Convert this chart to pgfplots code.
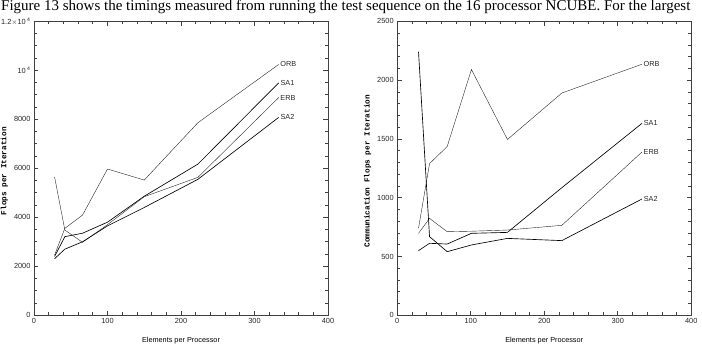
\documentclass[border=0pt]{standalone}
\usepackage{fontspec}
\setmainfont{Liberation Sans}
\newfontfamily\timesfont{Liberation Serif}
\newfontfamily\courfont{Liberation Mono}
\usepackage{pgfplots}
\pgfplotsset{compat=1.18}

% Flop counts per iteration against mesh elements per processor
\pgfplotstableread{
x     orb    sa1    erb    sa2
28    2460   2400   5650   2310
42    3550   3210   3480   2700
66    4090   3350   2980   3000
100   5970   3800   3700   3650
150   5520   4860   4840   4400
223   7860   6170   5630   5550
333   10240  9490   8890   8080
}\flops

\pgfplotstableread{
x     orb    sa1    erb    sa2
29    740    550    697    2241
44    1290   612    824    669
68    1435   606    711    541
101   2090   697    715    598
150   1495   705    725    654
224   1890   1085   765    635
333   2135   1632   1388   989
}\commflops

\tikzset{
  endlabel/.style={pos=1, anchor=west, font=\fontsize{7.3}{8}\selectfont, black!85, inner sep=1.5pt},
}

\pgfplotsset{
  panel/.style={
    scale only axis, width=294pt, height=294pt,
    anchor=south west,
    xmin=0, xmax=400, ymin=0,
    xtick={0,100,...,400}, minor x tick num=4,
    scaled y ticks=false,
    /pgf/number format/1000 sep={},
    /pgf/number format/assume math mode=true,
    tick align=inside, xtick pos=both, ytick pos=both,
    major tick length=4.5pt, minor tick length=2.8pt,
    axis line style={black!75, line width=0.8pt},
    every tick/.style={black!75, line width=0.6pt},
    tick label style={font=\fontsize{7.4}{8}\selectfont, black!85},
    xlabel={Elements per Processor},
    xlabel style={font=\fontsize{7.3}{8}\selectfont, at={(axis description cs:0.5,-0.062)}, anchor=north},
    ylabel style={font=\fontsize{7.7}{8}\selectfont\courfont\bfseries, at={(axis description cs:-0.101,0.49)}, anchor=center},
    cycle list={{black!85, line width=0.65pt}},
    no markers,
  },
}

\begin{document}
\begin{tikzpicture}[x=1pt,y=1pt]
\useasboundingbox (0,0) rectangle (702,345);
\node[anchor=base west, inner sep=0pt, font=\timesfont\fontsize{15}{16}\selectfont] at (1,334) {Figure 13 shows the timings measured from running the test sequence on the 16 processor NCUBE. For the largest};

\begin{axis}[panel, at={(34pt,29.7pt)},
  ymax=12000, ytick={0,2000,...,12000}, minor y tick num=3,
  yticklabels={0,2000,4000,6000,8000,{10\,\textsuperscript{4}},{1.2$\times$10\,\textsuperscript{4}}},
  ylabel={Flops per Iteration}]
\addplot table[x=x,y=orb] {\flops} node[endlabel]{ORB};
\addplot table[x=x,y=sa1] {\flops} node[endlabel]{SA1};
\addplot table[x=x,y=erb] {\flops} node[endlabel]{ERB};
\addplot table[x=x,y=sa2] {\flops} node[endlabel]{SA2};
\end{axis}

\begin{axis}[panel, at={(397.2pt,29.7pt)},
  ymax=2500, ytick={0,500,...,2500}, minor y tick num=4,
  ylabel={Communication Flops per Iteration}]
\addplot table[x=x,y=orb] {\commflops} node[endlabel]{ORB};
\addplot table[x=x,y=sa1] {\commflops} node[endlabel]{SA1};
\addplot table[x=x,y=erb] {\commflops} node[endlabel]{ERB};
\addplot table[x=x,y=sa2] {\commflops} node[endlabel]{SA2};
\end{axis}
\end{tikzpicture}
\end{document}
